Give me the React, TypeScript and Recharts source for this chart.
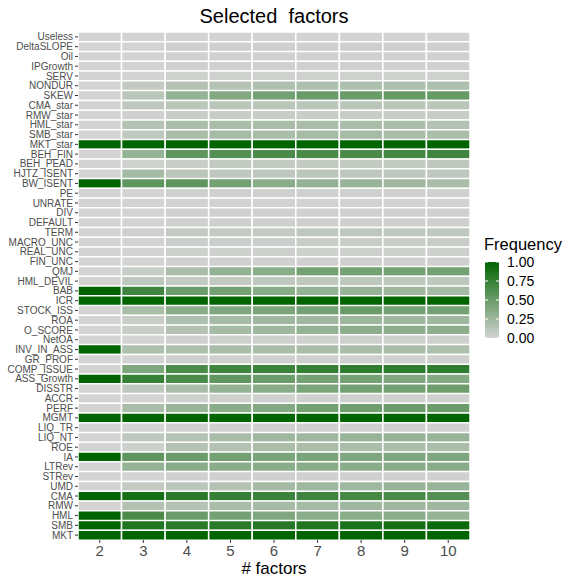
import { BarChart, Bar, XAxis, YAxis, Cell } from "recharts";

const factors = [
  "Useless", "DeltaSLOPE", "Oil", "IPGrowth", "SERV", "NONDUR", "SKEW",
  "CMA_star", "RMW_star", "HML_star", "SMB_star", "MKT_star", "BEH_FIN",
  "BEH_PEAD", "HJTZ_ISENT", "BW_ISENT", "PE", "UNRATE", "DIV", "DEFAULT",
  "TERM", "MACRO_UNC", "REAL_UNC", "FIN_UNC", "QMJ", "HML_DEVIL", "BAB",
  "ICR", "STOCK_ISS", "ROA", "O_SCORE", "NetOA", "INV_IN_ASS", "GR_PROF",
  "COMP_ISSUE", "ASS_Growth", "DISSTR", "ACCR", "PERF", "MGMT", "LIQ_TR",
  "LIQ_NT", "ROE", "IA", "LTRev", "STRev", "UMD", "CMA", "RMW", "HML",
  "SMB", "MKT",
];

const nFactors = [2, 3, 4, 5, 6, 7, 8, 9, 10];

// selection frequency, one row per factor, columns = # factors 2..10
const frequency = [
  [0, 0, 0, 0, 0, 0, 0, 0, 0],
  [0, 0, 0.03, 0.03, 0.03, 0.03, 0.03, 0.03, 0.03],
  [0, 0, 0.02, 0.02, 0.02, 0.02, 0.02, 0.02, 0.02],
  [0, 0, 0.02, 0.02, 0.02, 0.02, 0.02, 0.02, 0.02],
  [0, 0, 0.02, 0.02, 0.02, 0.02, 0.02, 0.02, 0.02],
  [0, 0.08, 0.15, 0.15, 0.17, 0.18, 0.18, 0.18, 0.18],
  [0, 0.12, 0.3, 0.38, 0.45, 0.5, 0.5, 0.52, 0.52],
  [0, 0.1, 0.12, 0.12, 0.12, 0.12, 0.12, 0.12, 0.12],
  [0, 0.02, 0.05, 0.05, 0.05, 0.05, 0.05, 0.05, 0.05],
  [0, 0.15, 0.2, 0.2, 0.2, 0.2, 0.2, 0.2, 0.15],
  [0, 0.1, 0.2, 0.22, 0.2, 0.22, 0.22, 0.2, 0.2],
  [1, 1, 1, 1, 1, 1, 1, 1, 1],
  [0, 0.3, 0.55, 0.6, 0.65, 0.65, 0.65, 0.68, 0.7],
  [0, 0.02, 0.05, 0.08, 0.08, 0.08, 0.08, 0.08, 0.1],
  [0, 0.22, 0.12, 0.1, 0.1, 0.12, 0.1, 0.1, 0.1],
  [1, 0.55, 0.55, 0.45, 0.35, 0.3, 0.28, 0.25, 0.2],
  [0, 0, 0.02, 0.02, 0.02, 0.02, 0.02, 0.02, 0.02],
  [0, 0, 0.01, 0.01, 0.01, 0.01, 0.01, 0.01, 0.01],
  [0, 0, 0.02, 0.02, 0.02, 0.02, 0.02, 0.02, 0.02],
  [0, 0, 0.02, 0.03, 0.03, 0.03, 0.03, 0.03, 0.03],
  [0, 0.03, 0.08, 0.08, 0.08, 0.1, 0.1, 0.1, 0.1],
  [0, 0, 0.04, 0.04, 0.04, 0.05, 0.05, 0.05, 0.05],
  [0, 0, 0.03, 0.03, 0.03, 0.03, 0.03, 0.03, 0.03],
  [0, 0, 0.02, 0.02, 0.02, 0.02, 0.02, 0.02, 0.02],
  [0, 0.06, 0.2, 0.3, 0.35, 0.45, 0.45, 0.45, 0.45],
  [0, 0.1, 0.08, 0.08, 0.1, 0.1, 0.1, 0.1, 0.1],
  [1, 0.7, 0.5, 0.45, 0.35, 0.3, 0.28, 0.25, 0.22],
  [1, 1, 1, 1, 1, 1, 1, 1, 1],
  [0, 0.2, 0.35, 0.4, 0.42, 0.45, 0.5, 0.45, 0.45],
  [0, 0.05, 0.18, 0.22, 0.25, 0.25, 0.25, 0.25, 0.25],
  [0, 0.05, 0.15, 0.22, 0.25, 0.3, 0.33, 0.33, 0.33],
  [0, 0, 0.02, 0.03, 0.03, 0.03, 0.03, 0.03, 0.03],
  [1, 0.18, 0.18, 0.2, 0.2, 0.2, 0.2, 0.2, 0.18],
  [0, 0, 0.03, 0.03, 0.03, 0.03, 0.03, 0.03, 0.03],
  [0, 0.4, 0.65, 0.7, 0.72, 0.75, 0.78, 0.78, 0.78],
  [1, 0.75, 0.65, 0.55, 0.5, 0.45, 0.45, 0.4, 0.38],
  [0, 0.1, 0.2, 0.3, 0.35, 0.42, 0.45, 0.45, 0.48],
  [0, 0, 0.02, 0.02, 0.02, 0.02, 0.02, 0.02, 0.02],
  [0, 0.2, 0.28, 0.35, 0.38, 0.45, 0.48, 0.5, 0.5],
  [1, 1, 1, 1, 1, 1, 1, 1, 1],
  [0, 0, 0.02, 0.02, 0.02, 0.02, 0.02, 0.02, 0.02],
  [0, 0.1, 0.15, 0.2, 0.25, 0.25, 0.28, 0.3, 0.28],
  [0, 0.03, 0.15, 0.15, 0.2, 0.2, 0.2, 0.2, 0.2],
  [1, 0.55, 0.5, 0.45, 0.42, 0.42, 0.4, 0.4, 0.4],
  [0, 0.3, 0.35, 0.35, 0.35, 0.35, 0.35, 0.35, 0.35],
  [0, 0, 0.02, 0.02, 0.02, 0.02, 0.02, 0.02, 0.02],
  [0, 0.08, 0.12, 0.15, 0.22, 0.25, 0.25, 0.28, 0.28],
  [1, 0.9, 0.8, 0.75, 0.72, 0.7, 0.68, 0.65, 0.6],
  [0, 0.15, 0.15, 0.2, 0.22, 0.22, 0.25, 0.25, 0.25],
  [1, 0.65, 0.5, 0.45, 0.4, 0.35, 0.35, 0.35, 0.3],
  [1, 0.85, 0.8, 0.8, 0.82, 0.85, 0.88, 0.9, 0.95],
  [1, 1, 1, 1, 1, 1, 1, 1, 1],
];

const legendBreaks = ["1.00", "0.75", "0.50", "0.25", "0.00"];

const LOW = [211, 211, 211];
const HIGH = [0, 100, 0];

function fillFor(v: number) {
  const c = LOW.map((l, i) => Math.round(l + (HIGH[i] - l) * v));
  return `rgb(${c[0]},${c[1]},${c[2]})`;
}

// each cell is a stacked segment of width 1 on a 0..9 axis
const data = factors.map((name) => {
  const row: Record<string, string | number> = { name };
  nFactors.forEach((k) => (row["k" + k] = 1));
  return row;
});

const W = 575;
const H = 577;
const PLOT_L = 78;
const PLOT_R = 470;
const PLOT_T = 32;
const font = "'Liberation Sans', Arial, sans-serif";

export default function App() {
  return (
    <div style={{ position: "absolute", left: 0, top: 0, width: W, height: H, background: "#fff" }}>
      <BarChart
        width={W}
        height={H}
        data={data}
        layout="vertical"
        margin={{ top: PLOT_T, right: W - PLOT_R, bottom: 17, left: 0 }}
        barCategoryGap={0}
        barGap={0}
      >
        <XAxis
          type="number"
          domain={[0, 9]}
          ticks={[0.5, 1.5, 2.5, 3.5, 4.5, 5.5, 6.5, 7.5, 8.5]}
          tickFormatter={(v: number) => String(nFactors[Math.floor(v)])}
          axisLine={false}
          tickSize={3}
          tickLine={{ stroke: "#333" }}
          tick={{ fill: "#4d4d4d", fontSize: 15, fontFamily: font }}
          height={20}
          allowDataOverflow
        />
        <YAxis
          type="category"
          dataKey="name"
          width={PLOT_L}
          interval={0}
          axisLine={false}
          tickSize={3}
          tickMargin={2}
          tickLine={{ stroke: "#333" }}
          tick={{ fill: "#4d4d4d", fontSize: 10, fontFamily: font }}
        />
        {nFactors.map((k, ci) => (
          <Bar
            key={k}
            dataKey={"k" + k}
            stackId="a"
            isAnimationActive={false}
            stroke="#ffffff"
            strokeWidth={1.5}
          >
            {factors.map((f, ri) => (
              <Cell key={f} fill={fillFor(frequency[ri][ci])} />
            ))}
          </Bar>
        ))}
      </BarChart>
      <svg
        width={W}
        height={H}
        style={{ position: "absolute", left: 0, top: 0, pointerEvents: "none", fontFamily: font }}
      >
        <defs>
          <linearGradient id="freqGrad" x1="0" y1="1" x2="0" y2="0">
            <stop offset="0" stopColor={fillFor(0)} />
            <stop offset="0.5" stopColor={fillFor(0.5)} />
            <stop offset="1" stopColor={fillFor(1)} />
          </linearGradient>
        </defs>
        <text x={(PLOT_L + PLOT_R) / 2} y={23} textAnchor="middle" fontSize={20} fill="#000" style={{ whiteSpace: "pre" }}>
          {"Selected  factors"}
        </text>
        <text x={(PLOT_L + PLOT_R) / 2} y={574} textAnchor="middle" fontSize={17} fill="#000">
          # factors
        </text>
        <text x={484} y={250} fontSize={16.5} fill="#000">
          Frequency
        </text>
        <rect x={485} y={262} width={14} height={76} fill="url(#freqGrad)" />
        {legendBreaks.map((b, i) => {
          const y = 262 + (i * 76) / 4;
          return (
            <g key={b}>
              <line x1={485} x2={488} y1={y} y2={y} stroke="#fff" strokeWidth={1} />
              <line x1={496} x2={499} y1={y} y2={y} stroke="#fff" strokeWidth={1} />
              <text x={507} y={y + 5} fontSize={14} fill="#000">
                {b}
              </text>
            </g>
          );
        })}
      </svg>
    </div>
  );
}
